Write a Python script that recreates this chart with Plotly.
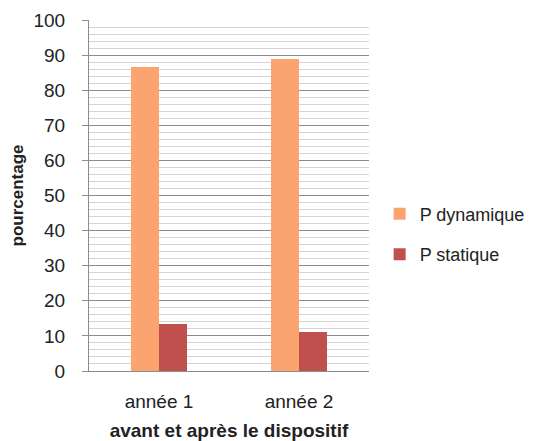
import plotly.graph_objects as go

categories = ["année 1", "année 2"]
p_dynamique = [86.6, 88.9]
p_statique = [13.4, 11.1]

fig = go.Figure()
fig.add_trace(go.Bar(x=categories, y=p_dynamique, name="P dynamique",
                     marker=dict(color="#FCA46F", line=dict(width=0)), legendgroup="a"))
fig.add_trace(go.Bar(x=categories, y=p_statique, name="P statique",
                     marker=dict(color="#C0504D", line=dict(width=0)), legendgroup="b"))

# la page HTML ajoute une marge de 8 px : on compense
fig.update_layout(
    width=529, height=433,
    margin=dict(l=81, r=168, t=12, b=70, autoexpand=False),
    paper_bgcolor="white", plot_bgcolor="white",
    barmode="group", bargap=0.6, bargroupgap=0,
    font=dict(family="Liberation Sans", size=19, color="#222222"),
    legend=dict(x=1.038, y=0.39, yanchor="middle", xanchor="left",
                tracegroupgap=14, font=dict(size=18)),
    showlegend=True,
)
fig.update_yaxes(
    range=[0, 100], dtick=10, tickfont=dict(size=19), automargin=False,
    showgrid=True, gridcolor="#8c8c8c", gridwidth=1,
    minor=dict(dtick=2, showgrid=True, gridcolor="#d4d4d4", gridwidth=1),
    showline=True, linecolor="#8c8c8c", ticks="outside", ticklen=6, tickcolor="#8c8c8c",
    ticklabelstandoff=13, zeroline=False,
    title=dict(text="<b>pourcentage</b>", font=dict(size=17), standoff=13),
)
fig.update_xaxes(
    showline=True, linecolor="#8c8c8c", tickfont=dict(size=19), automargin=False,
    ticklabelstandoff=13,
    title=dict(text="<b>avant et après le dispositif</b>", font=dict(size=19), standoff=15),
)

fig.write_html("out.html")
